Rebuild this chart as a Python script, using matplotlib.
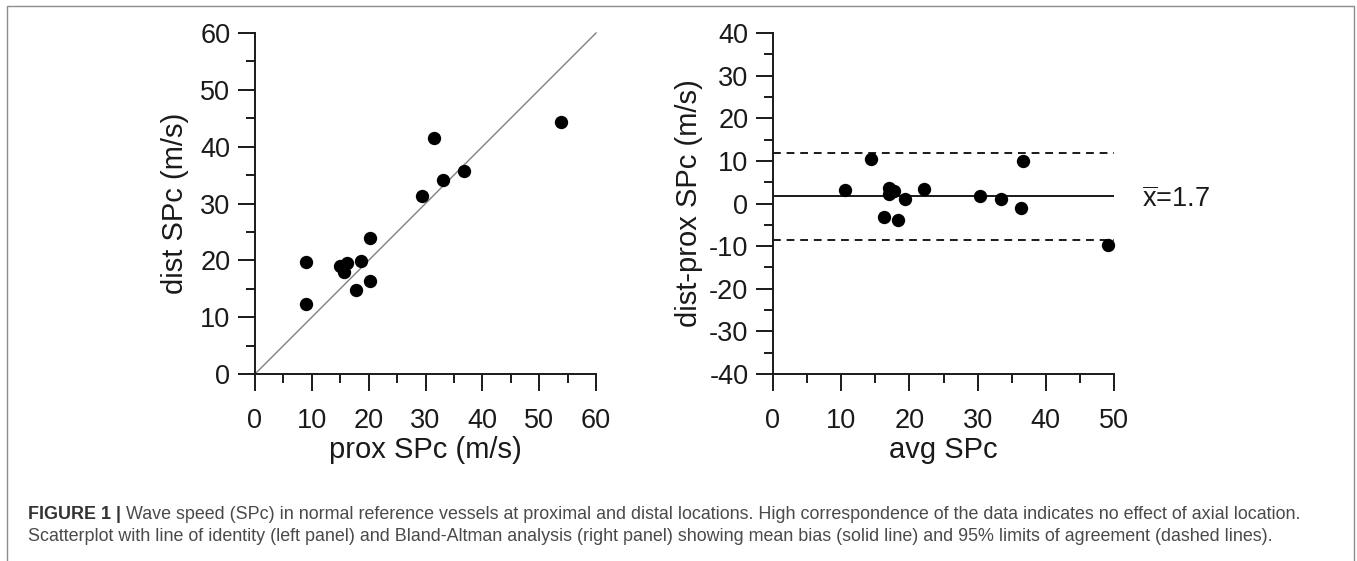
import matplotlib
matplotlib.use('Agg')
import matplotlib.pyplot as plt
from matplotlib.ticker import MultipleLocator
from matplotlib.patches import Rectangle

# left panel: proximal vs distal wave speed (m/s)
prox_spc = [8.9, 8.9, 15.0, 16.2, 15.7, 18.7, 17.8, 20.3, 20.2, 29.3, 33.1, 36.7, 31.5, 53.9]
dist_spc = [19.7, 12.3, 19.0, 19.6, 18.0, 19.9, 14.8, 23.9, 16.4, 31.3, 34.1, 35.8, 41.6, 44.3]

# right panel: Bland-Altman
avg_spc = [10.6, 14.4, 17.0, 17.8, 16.95, 19.4, 16.3, 18.3, 22.2, 30.3, 33.5, 36.3, 36.6, 49.1]
diff_spc = [3.1, 10.5, 3.6, 2.9, 2.2, 1.05, -3.2, -3.8, 3.4, 1.8, 1.0, -1.05, 10.0, -9.7]
mean_bias = 1.7
loa_upper = 11.8
loa_lower = -8.6

caption_bold = 'FIGURE 1 |'
caption_1 = ' Wave speed (SPc) in normal reference vessels at proximal and distal locations. High correspondence of the data indicates no effect of axial location.'
caption_2 = 'Scatterplot with line of identity (left panel) and Bland-Altman analysis (right panel) showing mean bias (solid line) and 95% limits of agreement (dashed lines).'

plt.rcParams['font.family'] = ['Liberation Sans', 'DejaVu Sans']
plt.rcParams['mathtext.fontset'] = 'custom'
plt.rcParams['mathtext.rm'] = 'Liberation Sans'
plt.rcParams['mathtext.it'] = 'Liberation Sans'
plt.rcParams['axes.unicode_minus'] = False

W, H = 1357, 561
fig = plt.figure(figsize=(W / 100, H / 100), dpi=100)
fig.patch.set_facecolor('white')

txt_col = '#1a1a1a'
tick_fs = 19.5
label_fs = 21


def style_axes(ax):
    for s in ['top', 'right']:
        ax.spines[s].set_visible(False)
    for s in ['left', 'bottom']:
        ax.spines[s].set_linewidth(1.4)
        ax.spines[s].set_color(txt_col)
    ax.tick_params(which='major', length=12.2, width=1.4, color=txt_col,
                   labelsize=tick_fs, labelcolor=txt_col)
    ax.tick_params(which='minor', length=6.5, width=1.4, color=txt_col)
    ax.tick_params(axis='x', which='major', pad=12)
    ax.tick_params(axis='y', which='major', pad=5.5)


# left panel
ax1 = fig.add_axes([255 / W, 1 - 374 / H, 341 / W, 341 / H])
ax1.plot([0, 60], [0, 60], color='#7f7f7f', lw=1.0, clip_on=False, zorder=1)
ax1.plot(prox_spc, dist_spc, 'o', color='black', ms=9.6, mec='none', clip_on=False, zorder=3)
ax1.set_xlim(0, 60)
ax1.set_ylim(0, 60)
ax1.xaxis.set_major_locator(MultipleLocator(10))
ax1.xaxis.set_minor_locator(MultipleLocator(5))
ax1.yaxis.set_major_locator(MultipleLocator(10))
ax1.yaxis.set_minor_locator(MultipleLocator(5))
style_axes(ax1)
ax1.set_xlabel('prox SPc (m/s)', fontsize=label_fs, color=txt_col, labelpad=2)
ax1.set_ylabel('dist SPc (m/s)', fontsize=label_fs, color=txt_col, labelpad=8)

# right panel
ax2 = fig.add_axes([773 / W, 1 - 374 / H, 341 / W, 341 / H])
ax2.axhline(mean_bias, color=txt_col, lw=1.4, zorder=1)
ax2.axhline(loa_upper, color=txt_col, lw=1.4, ls=(0, (4, 3)), zorder=1)
ax2.axhline(loa_lower, color=txt_col, lw=1.4, ls=(0, (4, 3)), zorder=1)
ax2.plot(avg_spc, diff_spc, 'o', color='black', ms=9.6, mec='none', clip_on=False, zorder=3)
ax2.set_xlim(0, 50)
ax2.set_ylim(-40, 40)
ax2.xaxis.set_major_locator(MultipleLocator(10))
ax2.xaxis.set_minor_locator(MultipleLocator(5))
ax2.yaxis.set_major_locator(MultipleLocator(10))
ax2.yaxis.set_minor_locator(MultipleLocator(5))
style_axes(ax2)
ax2.set_xlabel('avg SPc', fontsize=label_fs, color=txt_col, labelpad=2)
ax2.set_ylabel('dist-prox SPc (m/s)', fontsize=label_fs, color=txt_col, labelpad=4)
ax2.annotate(r'$\overline{\mathrm{x}}$=%.1f' % mean_bias, xy=(1.0, mean_bias),
             xycoords=('axes fraction', 'data'), xytext=(20, -7.5),
             textcoords='offset points', ha='left', va='baseline',
             fontsize=tick_fs, color=txt_col, annotation_clip=False)

# caption
cap_x = 28 / W
cap_fs = 12.9
t_bold = fig.text(cap_x, 1 - 519 / H, caption_bold, fontsize=cap_fs, fontweight='bold',
                  color='#333333', va='baseline')
renderer = fig.canvas.get_renderer()
bb = t_bold.get_window_extent(renderer)
fig.text(bb.x1 / W, 1 - 519 / H, caption_1, fontsize=cap_fs,
         color='#4a4a4a', va='baseline')
fig.text(cap_x, 1 - 541 / H, caption_2, fontsize=cap_fs,
         color='#4a4a4a', va='baseline')

# frame around the figure
fig.add_artist(Rectangle((7 / W, -0.1), (1354 - 7) / W, 1.1 - 6 / H,
                         transform=fig.transFigure, fill=False,
                         edgecolor='#8c8c8c', lw=1.0))

fig.savefig('out.png', dpi=100)
